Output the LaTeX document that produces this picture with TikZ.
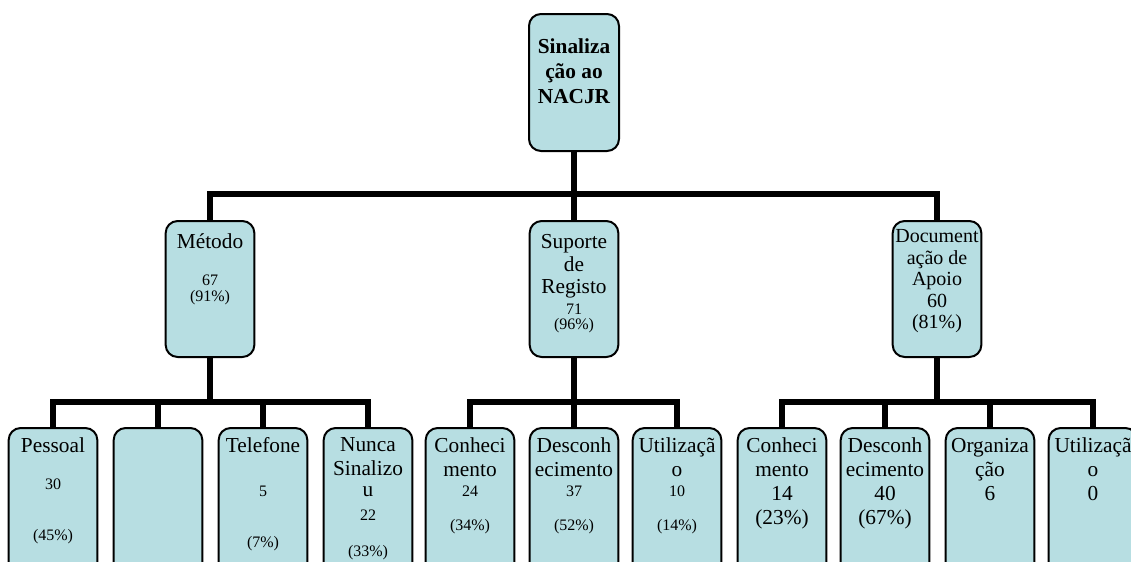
\documentclass[tikz,border=0pt]{standalone}
\usepackage{fontspec}
\setmainfont{Liberation Serif}
\usepackage{tikz}
\usetikzlibrary{positioning}
\definecolor{caixaazul}{RGB}{183,222,226}
\newcommand{\pq}[1]{{\fontsize{12}{14}\selectfont #1}}

\begin{document}
\begin{tikzpicture}[x=0.75pt, y=0.75pt,
    caixa/.style={draw, line width=1.5pt, rounded corners=9pt, fill=caixaazul,
        minimum width=66.5pt, minimum height=102pt, inner sep=0pt},
    baixa/.style={caixa, minimum height=111pt},
    ligacao/.style={line width=4.5pt},
    texto/.style={align=center, inner sep=0pt, anchor=north, font=\fontsize{16}{18}\selectfont}]
    \useasboundingbox (0,0) rectangle (1131,-561);
    \clip (0,0) rectangle (1131,-561);

    % raiz
    \node[caixa, minimum width=67.5pt, minimum height=102.75pt] (topo) at (574,-82.5) {};
    \node[texto, font=\bfseries\fontsize{16}{18.75}\selectfont, below=19pt of topo.north] (topo-t) {Sinaliza\\ção ao\\NACJR};

    % nivel 1
    \node[caixa] (metodo) at (210,-289) {};
    \node[texto, below=9.75pt of metodo.north] (metodo-t) {Método\\[10.4pt]\pq{67}\\[-6.45pt]\pq{(91\%)}};
    \node[caixa] (suporte) at (574,-289) {};
    \node[texto, below=10.5pt of suporte.north] (suporte-t) {Suporte\\[-1pt]de\\[-1pt]Registo\\[-2.7pt]\pq{71}\\[-6.45pt]\pq{(96\%)}};
    \node[caixa] (documentacao) at (937,-289) {};
    \node[texto, font=\fontsize{15}{16.1}\selectfont, below=7.1pt of documentacao.north] (documentacao-t) {Document\\ação de\\Apoio\\60\\(81\%)};

    % nivel 2 - metodo
    \node[baixa] (pessoal) at (53,-502) {};
    \node[texto, below=8pt of pessoal.north] (pessoal-t) {Pessoal\\[9.7pt]\pq{30}\\[19.8pt]\pq{(45\%)}};
    \node[baixa] (vazio) at (158,-502) {};
    \node[baixa] (telefone) at (263,-502) {};
    \node[texto, below=8pt of telefone.north] (telefone-t) {Telefone\\[14.9pt]\pq{5}\\[19.8pt]\pq{(7\%)}};
    \node[baixa] (nunca) at (368,-502) {};
    \node[texto, below=8pt of nunca.north] (nunca-t) {Nunca\\Sinalizo\\[-2.6pt]u\\[0.3pt]\pq{22}\\[8.7pt]\pq{(33\%)}};

    % nivel 2 - suporte de registo
    \node[baixa] (conhecR) at (470,-502) {};
    \node[texto, below=8pt of conhecR.north] (conhecR-t) {Conheci\\mento\\[-3.45pt]\pq{24}\\[7.8pt]\pq{(34\%)}};
    \node[baixa] (desconhR) at (574,-502) {};
    \node[texto, below=8pt of desconhR.north] (desconhR-t) {Desconh\\ecimento\\[-3.45pt]\pq{37}\\[7.8pt]\pq{(52\%)}};
    \node[baixa] (utilR) at (677,-502) {};
    \node[texto, below=8pt of utilR.north] (utilR-t) {Utilizaçã\\o\\[-3.45pt]\pq{10}\\[7.8pt]\pq{(14\%)}};

    % nivel 2 - documentacao de apoio
    \node[baixa] (conhecA) at (782,-502) {};
    \node[texto, below=8pt of conhecA.north] (conhecA-t) {Conheci\\mento\\14\\(23\%)};
    \node[baixa] (desconhA) at (885,-502) {};
    \node[texto, below=8pt of desconhA.north] (desconhA-t) {Desconh\\ecimento\\40\\(67\%)};
    \node[baixa] (organiz) at (990,-502) {};
    \node[texto, below=8pt of organiz.north] (organiz-t) {Organiza\\ção\\6};
    \node[baixa] (utilA) at (1093,-502) {};
    \node[texto, below=8pt of utilA.north] (utilA-t) {Utilizaçã\\o\\0};

    % ligacoes
    \coordinate (j0) at (574,-194);
    \draw[ligacao] (topo.south) -- (j0);
    \draw[ligacao] (metodo.north) |- (j0) -| (documentacao.north);
    \draw[ligacao] (j0) -- (suporte.north);

    \coordinate (j1) at (210,-402);
    \draw[ligacao] (metodo.south) -- (j1);
    \draw[ligacao] (pessoal.north) |- (j1) -| (nunca.north);
    \draw[ligacao] (vazio.north) -- (vazio.north |- j1);
    \draw[ligacao] (telefone.north) -- (telefone.north |- j1);

    \coordinate (j2) at (574,-402);
    \draw[ligacao] (suporte.south) -- (j2);
    \draw[ligacao] (conhecR.north) |- (j2) -| (utilR.north);
    \draw[ligacao] (desconhR.north) -- (j2);

    \coordinate (j3) at (937,-402);
    \draw[ligacao] (documentacao.south) -- (j3);
    \draw[ligacao] (conhecA.north) |- (j3) -| (utilA.north);
    \draw[ligacao] (desconhA.north) -- (desconhA.north |- j3);
    \draw[ligacao] (organiz.north) -- (organiz.north |- j3);
\end{tikzpicture}
\end{document}
